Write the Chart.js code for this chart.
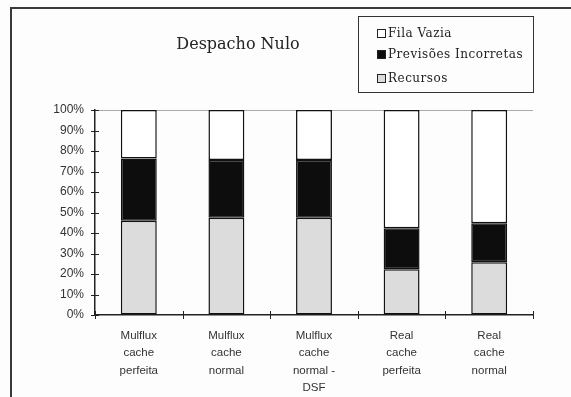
<!DOCTYPE html>
<html>
<head>
<meta charset="utf-8">
<script src="https://cdn.jsdelivr.net/npm/chart.js@4/dist/chart.umd.min.js"></script>
<style>
  html, body { margin: 0; padding: 0; background: #fdfdfd; }
  #wrap { position: relative; width: 571px; height: 397px; overflow: hidden; }
  #frame { position: absolute; left: 10px; top: 7px; width: 580px; height: 400px;
           border-top: 2px solid #3a3a3a; border-left: 2px solid #3a3a3a; }
  canvas { position: absolute; left: 0; top: 0; }
  #title { position: absolute; left: 158px; width: 160px; top: 34px; text-align: center;
           font-family: "DejaVu Serif", serif; font-size: 16px; color: #222; }
  #legend { position: absolute; left: 358px; top: 16px; width: 174px; height: 75px;
            border: 1px solid #333; font-family: "DejaVu Serif", serif; font-size: 12px;
            letter-spacing: 0.5px; color: #222; }
  .item { position: absolute; left: 18px; display: flex; align-items: center; white-space: nowrap; }
  .sw { width: 7px; height: 7px; border: 1px solid #222; margin-right: 2px; }
</style>
</head>
<body>
<div id="wrap">
  <div id="frame"></div>
  <canvas id="c" width="571" height="397"></canvas>
  <div id="title">Despacho Nulo</div>
  <div id="legend"></div>
</div>
<script>
// Categories (multi-line axis labels)
const categories = [
  ["Mulflux", "cache", "perfeita"],
  ["Mulflux", "cache", "normal"],
  ["Mulflux", "cache", "normal -", "DSF"],
  ["Real", "cache", "perfeita"],
  ["Real", "cache", "normal"]
];
// Share of each cause (%)
const recursos = [46, 47.5, 47.5, 22.3, 25.7];
const previsoesIncorretas = [30.4, 28.1, 28.1, 20, 19];
const filaVazia = [23.6, 24.4, 24.4, 57.7, 55.3];
const yTicks = [0, 10, 20, 30, 40, 50, 60, 70, 80, 90, 100];

// Draws tick marks that cross both axes
const crossTicks = {
  id: 'crossTicks',
  afterDraw(chart) {
    const ctx = chart.ctx;
    const xs = chart.scales.x, ys = chart.scales.y;
    ctx.save();
    ctx.strokeStyle = '#222';
    ctx.lineWidth = 1;
    ctx.beginPath();
    ys.ticks.forEach(t => {
      const y = Math.round(ys.getPixelForValue(t.value)) + 0.5;
      ctx.moveTo(xs.left - 4, y); ctx.lineTo(xs.left + 4, y);
    });
    const n = chart.data.labels.length;
    const step = (xs.right - xs.left) / n;
    for (let i = 0; i <= n; i++) {
      const x = Math.round(xs.left + i * step) + 0.5;
      ctx.moveTo(x, ys.bottom - 4); ctx.lineTo(x, ys.bottom + 4);
    }
    ctx.stroke();
    ctx.restore();
  }
};

const chart = new Chart(document.getElementById('c'), {
  type: 'bar',
  data: {
    labels: categories,
    datasets: [
      { label: 'Recursos', data: recursos, backgroundColor: '#dcdcdc' },
      { label: 'Previsões Incorretas', data: previsoesIncorretas, backgroundColor: '#0d0d0d' },
      { label: 'Fila Vazia', data: filaVazia, backgroundColor: '#ffffff' }
    ].map(d => Object.assign(d, {
      borderColor: '#111', borderWidth: 1.5, borderSkipped: false,
      categoryPercentage: 0.41, barPercentage: 1
    }))
  },
  options: {
    responsive: false,
    animation: false,
    layout: { padding: { left: 0, right: 38, top: 110, bottom: 0 } },
    plugins: { legend: { display: false }, tooltip: { enabled: false }, title: { display: false } },
    scales: {
      x: {
        stacked: true,
        grid: { display: false },
        border: { display: true, color: '#222', width: 1.5 },
        ticks: {
          color: '#333', padding: 4,
          font: { family: 'Liberation Sans, sans-serif', size: 11.5, lineHeight: 1.52 },
          maxRotation: 0, autoSkip: false
        },
        afterFit(s) { s.height = 82; }
      },
      y: {
        stacked: true,
        min: 0, max: 100,
        afterBuildTicks(s) { s.ticks = yTicks.map(v => ({ value: v })); },
        grid: {
          drawTicks: false,
          color: ctx => (ctx.tick && ctx.tick.value === 100) ? '#aaa' : 'transparent',
          lineWidth: 1
        },
        border: { display: true, color: '#222', width: 1.5 },
        ticks: {
          color: '#333', padding: 11,
          font: { family: 'Liberation Sans, sans-serif', size: 12 },
          callback: v => v + '%'
        },
        afterFit(s) { s.width = 95; }
      }
    }
  },
  plugins: [crossTicks]
});

// Legend built from the datasets (top to bottom: Fila Vazia, Previsões, Recursos)
const legendEl = document.getElementById('legend');
const rowsTop = [9, 30, 54];
chart.data.datasets.slice().reverse().forEach((d, i) => {
  const row = document.createElement('div');
  row.className = 'item';
  row.style.top = rowsTop[i] + 'px';
  const sw = document.createElement('span');
  sw.className = 'sw';
  sw.style.background = d.backgroundColor;
  const tx = document.createElement('span');
  tx.textContent = d.label;
  row.appendChild(sw); row.appendChild(tx);
  legendEl.appendChild(row);
});
</script>
</body>
</html>
